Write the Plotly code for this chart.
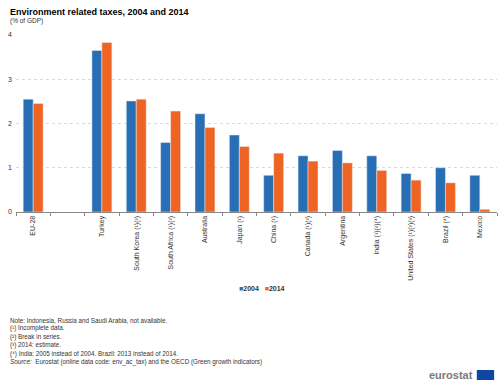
import plotly.graph_objects as go

categories = ["EU-28", " ", "Turkey", "South Korea (¹)(²)", "South Africa (¹)(²)", "Australia",
              "Japan (¹)", "China (¹)", "Canada (¹)(²)", "Argentina", "India (¹)(²)(⁴)",
              "United States (¹)(²)(³)", "Brazil (⁴)", "Mexico"]
v2004 = [2.55, None, 3.65, 2.51, 1.57, 2.22, 1.74, 0.83, 1.27, 1.39, 1.27, 0.87, 1.00, 0.83]
v2014 = [2.45, None, 3.83, 2.55, 2.28, 1.91, 1.48, 1.33, 1.15, 1.11, 0.94, 0.72, 0.66, 0.06]
yticks = [0, 1, 2, 3, 4]
series_names = ["2004", "2014"]

BLUE = "#286EB4"
ORANGE = "#F06423"
FONT = "Liberation Sans, Arial, sans-serif"

fig = go.Figure()
fig.add_trace(go.Bar(x=categories, y=v2004, name=series_names[0], marker_color=BLUE))
fig.add_trace(go.Bar(x=categories, y=v2014, name=series_names[1], marker_color=ORANGE))

fig.update_layout(
    width=500, height=389,
    margin=dict(l=16, r=3, t=35, b=177),
    paper_bgcolor="white", plot_bgcolor="white",
    font=dict(family=FONT, size=7, color="#333"),
    barmode="group", bargap=0.42, bargroupgap=0,
    showlegend=False,
    xaxis=dict(type="category", tickangle=-90, tickson="boundaries", ticks="outside",
               ticklen=3, tickcolor="#888", showline=True, linecolor="#888",
               tickfont=dict(size=7, color="#333"), showgrid=False, automargin=False),
    yaxis=dict(range=[0, 4], tickvals=yticks, ticks="", showline=False,
               gridcolor="#d9d9d9", griddash="dot", gridwidth=1, zeroline=False,
               tickfont=dict(size=7, color="#333"), automargin=False, ticklabelstandoff=3),
)

fig.add_annotation(text="<b>Environment related taxes, 2004 and 2014</b>", xref="paper", yref="paper",
                   x=-0.016, y=1.0, xanchor="left", yanchor="bottom", yshift=16,
                   showarrow=False, font=dict(size=9, color="#000"))
fig.add_annotation(text="(% of GDP)", xref="paper", yref="paper",
                   x=-0.016, y=1.0, xanchor="left", yanchor="bottom", yshift=8,
                   showarrow=False, font=dict(size=6.5, color="#333"))

# legend drawn manually (small square markers)
fig.add_annotation(text=f"<span style='color:{BLUE}'>■</span><b>{series_names[0]}</b>   "
                        f"<span style='color:{ORANGE}'>■</span><b>{series_names[1]}</b>",
                   xref="paper", yref="paper", x=0.512, y=0, xanchor="center", yanchor="middle",
                   yshift=-(288 - 212), showarrow=False, font=dict(size=7, color="#333"))

notes = ["Note: Indonesia, Russia and Saudi Arabia, not available.",
         "(¹) Incomplete data.",
         "(²) Break in series.",
         "(³) 2014: estimate.",
         "(⁴) India: 2005 instead of 2004. Brazil: 2013 instead of 2014.",
         "<i>Source:</i>  Eurostat (online data code: env_ac_tax) and the OECD (Green growth indicators)"]
for i, t in enumerate(notes):
    fig.add_annotation(text=t, xref="paper", yref="paper", x=-0.016, y=0, xanchor="left",
                       yanchor="middle", yshift=-(320 - 212) - i * 8.4, showarrow=False,
                       font=dict(size=6.3, color="#333"))

fig.add_annotation(text="<b>eurostat</b>", xref="paper", yref="paper", x=0.955, y=0,
                   xanchor="right", yanchor="middle", yshift=-(375 - 212), showarrow=False,
                   font=dict(size=11, color="#7a7a7a"))
fig.add_shape(type="rect", xref="paper", yref="paper", x0=0.958, x1=0.994,
              y0=-(380 - 212) / 177, y1=-(370 - 212) / 177, fillcolor="#0E47A1", line_width=0)

fig.write_html("out.html", config={"displayModeBar": False},
               post_script="document.body.style.margin='0';document.body.style.padding='0';")
